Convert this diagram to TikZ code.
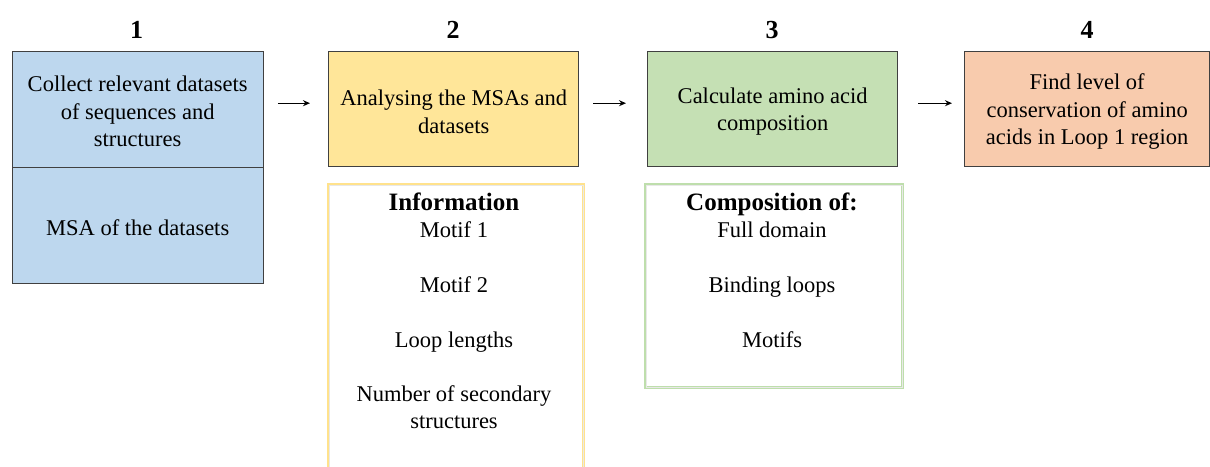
\documentclass[tikz,border=0pt]{standalone}
\usepackage{fontspec}
\setmainfont{Liberation Serif}
\newfontfamily\tnr{Liberation Serif}
\usetikzlibrary{arrows.meta}
\definecolor{fillB}{RGB}{189,215,238}
\definecolor{fillY}{RGB}{255,230,153}
\definecolor{fillG}{RGB}{197,224,180}
\definecolor{fillO}{RGB}{248,203,173}
\definecolor{edge}{RGB}{64,64,64}
\definecolor{infoY}{RGB}{255,226,140}
\definecolor{compG}{RGB}{190,222,172}
\definecolor{inner}{RGB}{232,232,232}
\begin{document}
\begin{tikzpicture}[x=1pt,y=-1pt,
 box/.style={draw=edge, line width=1.4pt, inner sep=0pt, anchor=north west},
 boxtext/.style={align=center, font=\tnr\fontsize{22.5}{27.5}\selectfont, inner sep=0pt, text=black, yshift=-2.5pt},
 num/.style={font=\tnr\fontsize{26}{30}\selectfont\bfseries, anchor=base},
 txt/.style={font=\tnr\fontsize{22.5}{27.5}\selectfont, anchor=base},
 head/.style={font=\tnr\fontsize{25}{30}\selectfont\bfseries, anchor=base},
 frame/.style={line width=3.4pt, inner sep=0pt, anchor=north west},
 innerline/.style={draw=inner, line width=0.4pt},
 arr/.style={-{Stealth[length=7pt,width=6pt]}, line width=1.3pt}]
\useasboundingbox (0,0) rectangle (1210,466);
\clip (0,0) rectangle (1210,466);
\fill[white] (0,0) rectangle (1210,466);

% step boxes
\node[box, fill=fillB, minimum width=251, minimum height=116] (b1) at (11.5,50.5) {};
\node[box, fill=fillB, minimum width=251, minimum height=116] (b1b) at (11.5,166.5) {};
\node[box, fill=fillY, minimum width=250, minimum height=115] (b2) at (328,51) {};
\node[box, fill=fillG, minimum width=250, minimum height=115] (b3) at (647,51) {};
\node[box, fill=fillO, minimum width=245, minimum height=115] (b4) at (964,51) {};

\node[boxtext] (t1) at (b1.center) {Collect relevant datasets\\of sequences and\\structures};
\node[boxtext] (t1b) at (b1b.center) {MSA of the datasets};
\node[boxtext] (t2) at (b2.center) {Analysing the MSAs and\\datasets};
\node[boxtext] (t3) at (b3.center) {Calculate amino acid\\composition};
\node[boxtext] (t4) at (b4.center) {Find level of\\conservation of amino\\acids in Loop 1 region};

% numbers
\node[num] (n1) at (136.5,38) {1};
\node[num] (n2) at (453,38) {2};
\node[num] (n3) at (772,38) {3};
\node[num] (n4) at (1087,38) {4};

% arrows
\draw[arr] ([xshift=14pt,yshift=6pt]b1.east) -- ([xshift=-18pt,yshift=6pt]b2.west);
\draw[arr] ([xshift=14pt,yshift=6pt]b2.east) -- ([xshift=-21pt,yshift=6pt]b3.west);
\draw[arr] ([xshift=20pt,yshift=6pt]b3.east) -- ([xshift=-12pt,yshift=6pt]b4.west);

% information box
\node[frame, draw=infoY, minimum width=255, minimum height=320] (info) at (326.5,182.5) {};
\draw[innerline] ([xshift=2.2pt,yshift=-2.2pt]info.north west) rectangle ([xshift=-2.2pt,yshift=2.2pt]info.south east);
\node[head] (i0) at (454,210) {Information};
\node[txt] (i1) at (454,237) {Motif 1};
\node[txt] (i2) at (454,292) {Motif 2};
\node[txt] (i3) at (454,347) {Loop lengths};
\node[txt] (i4) at (454,401) {Number of secondary};
\node[txt] (i5) at (454,428) {structures};

% composition box
\node[frame, draw=compG, minimum width=257, minimum height=203] (comp) at (643.5,182.5) {};
\draw[innerline] ([xshift=2.2pt,yshift=-2.2pt]comp.north west) rectangle ([xshift=-2.2pt,yshift=2.2pt]comp.south east);
\node[head] (c0) at (772,210) {Composition of:};
\node[txt] (c1) at (772,237) {Full domain};
\node[txt] (c2) at (772,292) {Binding loops};
\node[txt] (c3) at (772,347) {Motifs};
\end{tikzpicture}
\end{document}
